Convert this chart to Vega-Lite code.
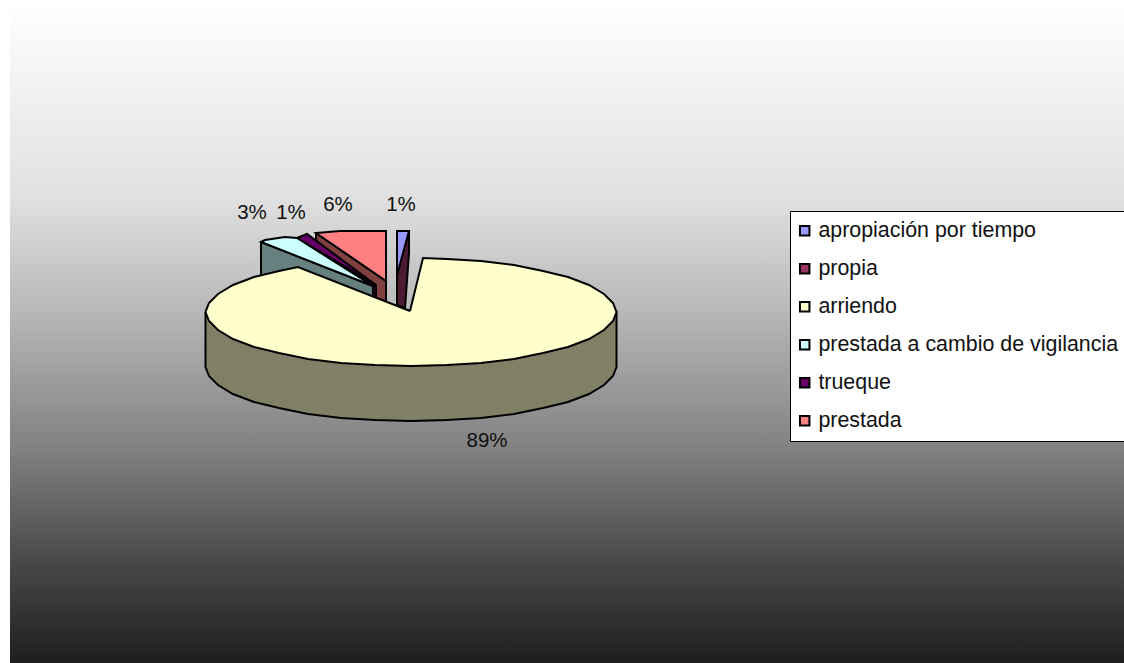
{"$schema":"https://vega.github.io/schema/vega-lite/v6.json","width":1124,"height":663,"padding":0,"autosize":{"type":"none"},"background":"white","view":{"stroke":null},
"config":{"font":"Liberation Sans"},
"datasets":{
"band":[{"x":10,"x2":1124,"y":0,"y2":663}],
"labels":[{"t":"3%","x":252,"y":213},{"t":"1%","x":291,"y":213},{"t":"6%","x":338,"y":205},{"t":"1%","x":401,"y":205},{"t":"89%","x":487,"y":441}],
"pie":[
{"slice":"prestada","part":"side","seq":0,"x":316,"y":233},{"slice":"prestada","part":"side","seq":1,"x":386,"y":281},{"slice":"prestada","part":"side","seq":2,"x":386,"y":306},{"slice":"prestada","part":"side","seq":3,"x":316,"y":288},{"slice":"prestada","part":"side","seq":4,"x":316,"y":233},
{"slice":"prestada","part":"top","seq":0,"x":386,"y":281},{"slice":"prestada","part":"top","seq":1,"x":386,"y":231},{"slice":"prestada","part":"top","seq":2,"x":340,"y":231},{"slice":"prestada","part":"top","seq":3,"x":316,"y":233},{"slice":"prestada","part":"top","seq":4,"x":386,"y":281},
{"slice":"trueque","part":"side","seq":0,"x":302,"y":237},{"slice":"trueque","part":"side","seq":1,"x":376,"y":285},{"slice":"trueque","part":"side","seq":2,"x":376,"y":298},{"slice":"trueque","part":"side","seq":3,"x":302,"y":285},{"slice":"trueque","part":"side","seq":4,"x":302,"y":237},
{"slice":"trueque","part":"top","seq":0,"x":376,"y":285},{"slice":"trueque","part":"top","seq":1,"x":307,"y":234},{"slice":"trueque","part":"top","seq":2,"x":297,"y":238},{"slice":"trueque","part":"top","seq":3,"x":376,"y":285},
{"slice":"prestada a cambio de vigilancia","part":"side","seq":0,"x":261,"y":242},{"slice":"prestada a cambio de vigilancia","part":"side","seq":1,"x":373,"y":286},{"slice":"prestada a cambio de vigilancia","part":"side","seq":2,"x":373,"y":300},{"slice":"prestada a cambio de vigilancia","part":"side","seq":3,"x":261,"y":297},{"slice":"prestada a cambio de vigilancia","part":"side","seq":4,"x":261,"y":242},
{"slice":"prestada a cambio de vigilancia","part":"top","seq":0,"x":373,"y":286},{"slice":"prestada a cambio de vigilancia","part":"top","seq":1,"x":297,"y":238},{"slice":"prestada a cambio de vigilancia","part":"top","seq":2,"x":285,"y":237},{"slice":"prestada a cambio de vigilancia","part":"top","seq":3,"x":265,"y":240},{"slice":"prestada a cambio de vigilancia","part":"top","seq":4,"x":261,"y":242},{"slice":"prestada a cambio de vigilancia","part":"top","seq":5,"x":373,"y":286},
{"slice":"propia","part":"side","seq":0,"x":409,"y":231},{"slice":"propia","part":"side","seq":1,"x":409,"y":253},{"slice":"propia","part":"side","seq":2,"x":405,"y":308},{"slice":"propia","part":"side","seq":3,"x":397,"y":305},{"slice":"propia","part":"side","seq":4,"x":397,"y":275},{"slice":"propia","part":"side","seq":5,"x":409,"y":231},
{"slice":"apropiación por tiempo","part":"top","seq":0,"x":397,"y":275},{"slice":"apropiación por tiempo","part":"top","seq":1,"x":397,"y":231},{"slice":"apropiación por tiempo","part":"top","seq":2,"x":409,"y":231},{"slice":"apropiación por tiempo","part":"top","seq":3,"x":397,"y":275},
{"slice":"arriendo","part":"side","seq":0,"x":205.5,"y":312},{"slice":"arriendo","part":"side","seq":1,"x":616.5,"y":312},{"slice":"arriendo","part":"side","seq":2,"x":616.5,"y":367},{"slice":"arriendo","part":"side","seq":3,"x":613,"y":376},{"slice":"arriendo","part":"side","seq":4,"x":604,"y":385},{"slice":"arriendo","part":"side","seq":5,"x":589,"y":394},{"slice":"arriendo","part":"side","seq":6,"x":568,"y":402},{"slice":"arriendo","part":"side","seq":7,"x":543,"y":408},{"slice":"arriendo","part":"side","seq":8,"x":514,"y":414},{"slice":"arriendo","part":"side","seq":9,"x":481,"y":418},{"slice":"arriendo","part":"side","seq":10,"x":447,"y":420},{"slice":"arriendo","part":"side","seq":11,"x":411,"y":421},{"slice":"arriendo","part":"side","seq":12,"x":375,"y":420},{"slice":"arriendo","part":"side","seq":13,"x":341,"y":418},{"slice":"arriendo","part":"side","seq":14,"x":308,"y":414},{"slice":"arriendo","part":"side","seq":15,"x":279,"y":408},{"slice":"arriendo","part":"side","seq":16,"x":254,"y":402},{"slice":"arriendo","part":"side","seq":17,"x":233,"y":394},{"slice":"arriendo","part":"side","seq":18,"x":218,"y":385},{"slice":"arriendo","part":"side","seq":19,"x":209,"y":376},{"slice":"arriendo","part":"side","seq":20,"x":205.5,"y":367},{"slice":"arriendo","part":"side","seq":21,"x":205.5,"y":312},
{"slice":"arriendo","part":"top","seq":0,"x":410,"y":311},{"slice":"arriendo","part":"top","seq":1,"x":423,"y":258},{"slice":"arriendo","part":"top","seq":2,"x":447,"y":259},{"slice":"arriendo","part":"top","seq":3,"x":481,"y":261},{"slice":"arriendo","part":"top","seq":4,"x":514,"y":265},{"slice":"arriendo","part":"top","seq":5,"x":543,"y":271},{"slice":"arriendo","part":"top","seq":6,"x":568,"y":277},{"slice":"arriendo","part":"top","seq":7,"x":589,"y":285},{"slice":"arriendo","part":"top","seq":8,"x":604,"y":294},{"slice":"arriendo","part":"top","seq":9,"x":613,"y":303},{"slice":"arriendo","part":"top","seq":10,"x":616.5,"y":312},{"slice":"arriendo","part":"top","seq":11,"x":613,"y":321},{"slice":"arriendo","part":"top","seq":12,"x":604,"y":330},{"slice":"arriendo","part":"top","seq":13,"x":589,"y":339},{"slice":"arriendo","part":"top","seq":14,"x":568,"y":347},{"slice":"arriendo","part":"top","seq":15,"x":543,"y":353},{"slice":"arriendo","part":"top","seq":16,"x":514,"y":359},{"slice":"arriendo","part":"top","seq":17,"x":481,"y":363},{"slice":"arriendo","part":"top","seq":18,"x":447,"y":365},{"slice":"arriendo","part":"top","seq":19,"x":411,"y":366},{"slice":"arriendo","part":"top","seq":20,"x":375,"y":365},{"slice":"arriendo","part":"top","seq":21,"x":341,"y":363},{"slice":"arriendo","part":"top","seq":22,"x":308,"y":359},{"slice":"arriendo","part":"top","seq":23,"x":279,"y":353},{"slice":"arriendo","part":"top","seq":24,"x":254,"y":347},{"slice":"arriendo","part":"top","seq":25,"x":233,"y":339},{"slice":"arriendo","part":"top","seq":26,"x":218,"y":330},{"slice":"arriendo","part":"top","seq":27,"x":209,"y":321},{"slice":"arriendo","part":"top","seq":28,"x":205.5,"y":312},{"slice":"arriendo","part":"top","seq":29,"x":209,"y":303},{"slice":"arriendo","part":"top","seq":30,"x":218,"y":294},{"slice":"arriendo","part":"top","seq":31,"x":233,"y":285},{"slice":"arriendo","part":"top","seq":32,"x":254,"y":277},{"slice":"arriendo","part":"top","seq":33,"x":279,"y":271},{"slice":"arriendo","part":"top","seq":34,"x":298,"y":267},{"slice":"arriendo","part":"top","seq":35,"x":410,"y":311}
]},
"data":{"name":"pie"},
"encoding":{
"x":{"field":"x","type":"quantitative","scale":{"domain":[0,1124]},"axis":null},
"y":{"field":"y","type":"quantitative","scale":{"domain":[663,0]},"axis":null}
},
"layer":[
{"data":{"name":"band"},"mark":{"type":"rect","fill":{"gradient":"linear","x1":0,"y1":0,"x2":0,"y2":1,"stops":[{"offset":0,"color":"#ffffff"},{"offset":0.3,"color":"#e0e0e0"},{"offset":0.5,"color":"#b0b0b0"},{"offset":0.68,"color":"#808080"},{"offset":0.85,"color":"#484848"},{"offset":1,"color":"#1e1e1e"}]}},"encoding":{"x":{"field":"x","type":"quantitative","scale":{"domain":[0,1124]},"axis":null},"x2":{"field":"x2"},"y":{"field":"y","type":"quantitative","scale":{"domain":[663,0]},"axis":null},"y2":{"field":"y2"}}},
{"transform":[{"filter":"datum.slice==='prestada'&&datum.part==='side'"}],"mark":{"type":"line","fill":"#804040","stroke":"black","strokeWidth":2},"encoding":{"order":{"field":"seq","type":"quantitative"}}},
{"transform":[{"filter":"datum.slice==='prestada'&&datum.part==='top'"}],"mark":{"type":"line","stroke":"black","strokeWidth":2},"encoding":{"order":{"field":"seq","type":"quantitative"},"fill":{"field":"slice","type":"nominal","scale":{"domain":["apropiación por tiempo","propia","arriendo","prestada a cambio de vigilancia","trueque","prestada"],"range":["#9999ff","#993366","#ffffcc","#ccffff","#660066","#ff8080"]},"legend":{"orient":"none","legendX":790,"legendY":211,"title":null,"padding":9,"fillColor":"white","strokeColor":"black","symbolType":"square","symbolSize":90,"symbolStrokeColor":"black","symbolStrokeWidth":2,"symbolOffset":-5,"labelFont":"Liberation Sans","labelFontSize":21.4,"labelColor":"#111111","labelOffset":3,"labelLimit":400,"rowPadding":15,"values":["apropiación por tiempo","propia","arriendo","prestada a cambio de vigilancia","trueque","prestada"]}}}},
{"transform":[{"filter":"datum.slice==='trueque'&&datum.part==='side'"}],"mark":{"type":"line","fill":"#330033","stroke":"black","strokeWidth":2},"encoding":{"order":{"field":"seq","type":"quantitative"}}},
{"transform":[{"filter":"datum.slice==='trueque'&&datum.part==='top'"}],"mark":{"type":"line","stroke":"black","strokeWidth":2},"encoding":{"order":{"field":"seq","type":"quantitative"},"fill":{"field":"slice","type":"nominal"}}},
{"transform":[{"filter":"datum.slice==='prestada a cambio de vigilancia'&&datum.part==='side'"}],"mark":{"type":"line","fill":"#668080","stroke":"black","strokeWidth":2},"encoding":{"order":{"field":"seq","type":"quantitative"}}},
{"transform":[{"filter":"datum.slice==='prestada a cambio de vigilancia'&&datum.part==='top'"}],"mark":{"type":"line","stroke":"black","strokeWidth":2},"encoding":{"order":{"field":"seq","type":"quantitative"},"fill":{"field":"slice","type":"nominal"}}},
{"transform":[{"filter":"datum.slice==='propia'"}],"mark":{"type":"line","fill":"#4d1a33","stroke":"black","strokeWidth":2},"encoding":{"order":{"field":"seq","type":"quantitative"}}},
{"transform":[{"filter":"datum.slice==='apropiación por tiempo'"}],"mark":{"type":"line","stroke":"black","strokeWidth":2},"encoding":{"order":{"field":"seq","type":"quantitative"},"fill":{"field":"slice","type":"nominal"}}},
{"transform":[{"filter":"datum.slice==='arriendo'&&datum.part==='side'"}],"mark":{"type":"line","fill":"#808066","stroke":"black","strokeWidth":2},"encoding":{"order":{"field":"seq","type":"quantitative"}}},
{"transform":[{"filter":"datum.slice==='arriendo'&&datum.part==='top'"}],"mark":{"type":"line","stroke":"black","strokeWidth":2},"encoding":{"order":{"field":"seq","type":"quantitative"},"fill":{"field":"slice","type":"nominal"}}},
{"data":{"name":"labels"},"mark":{"type":"text","font":"Liberation Sans","fontSize":20.5,"color":"#111111"},"encoding":{"text":{"field":"t","type":"nominal"},"x":{"field":"x","type":"quantitative","scale":{"domain":[0,1124]},"axis":null},"y":{"field":"y","type":"quantitative","scale":{"domain":[663,0]},"axis":null}}}
]}
